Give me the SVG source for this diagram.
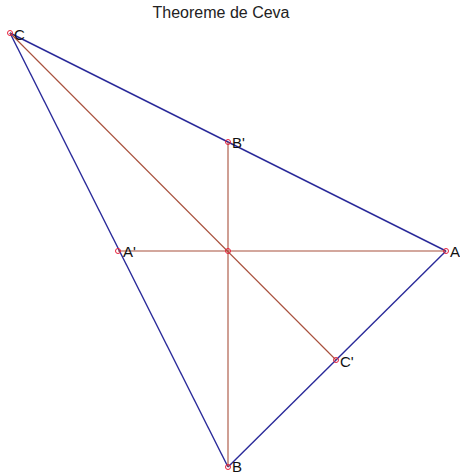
<svg xmlns="http://www.w3.org/2000/svg" width="460" height="475" viewBox="0 0 460 475">
<style>
.side{stroke:#2a2a9a;stroke-width:1.4;fill:none}
.cev{stroke:#a8503c;stroke-width:1.1;fill:none}
.pt{fill:none;stroke:#e8203a;stroke-width:1}
.lbl{font-family:"Liberation Sans",Arial,sans-serif;font-size:15px;fill:#111}
.title{font-family:"Liberation Sans",Arial,sans-serif;font-size:16px;fill:#222}
</style>
<rect width="460" height="475" fill="#fff"/>
<text class="title" x="221" y="18" text-anchor="middle">Theoreme de Ceva</text>
<g id="connectors">
<line class="side" x1="10" y1="33" x2="228" y2="467"/>
<line class="side" x1="10" y1="33" x2="446" y2="251"/>
<line class="side" x1="446" y1="251" x2="228" y2="467"/>
<line class="cev" x1="118" y1="251" x2="446" y2="251"/>
<line class="cev" x1="228" y1="142" x2="228" y2="467"/>
<line class="cev" x1="10" y1="33" x2="336" y2="360"/>
</g>
<g id="C"><circle class="pt" cx="10" cy="33" r="2.5"/><text class="lbl" x="14" y="40">C</text></g>
<g id="Bp"><circle class="pt" cx="228" cy="142" r="2.5"/><text class="lbl" x="232" y="148">B'</text></g>
<g id="Ap"><circle class="pt" cx="118" cy="251" r="2.5"/><text class="lbl" x="123" y="257">A'</text></g>
<g id="O"><circle class="pt" cx="228" cy="251" r="2.5"/></g>
<g id="A"><circle class="pt" cx="446" cy="251" r="2.5"/><text class="lbl" x="450" y="257">A</text></g>
<g id="Cp"><circle class="pt" cx="336" cy="360" r="2.5"/><text class="lbl" x="340" y="367">C'</text></g>
<g id="B"><circle class="pt" cx="228" cy="467" r="2.5"/><text class="lbl" x="232" y="472">B</text></g>
</svg>
